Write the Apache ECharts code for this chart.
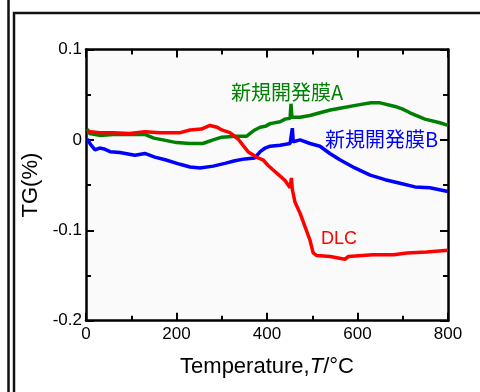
<!DOCTYPE html>
<html><head><meta charset="utf-8">
<script src="https://cdn.jsdelivr.net/npm/echarts@6/dist/echarts.min.js"></script>
<style>html,body{margin:0;padding:0;background:#fff}#c{width:480px;height:392px}</style>
</head><body><div id="c"></div>
<script>
var xTicks = [0, 200, 400, 600, 800];
var yTicks = [-0.2, -0.1, 0, 0.1];

var dlcT = [3,10,30,60,97,130,163,208,230,255,274,290,300,318,336,358,380,391,402,413,429,440,451,454,456,462,473,484,495,502,510,540,572,580,634,680,709,753,800];
var dlcV = [0.008,0.009,0.008,0.008,0.007,0.009,0.008,0.008,0.011,0.012,0.016,0.014,0.011,0.008,0.001,-0.013,-0.020,-0.022,-0.028,-0.033,-0.040,-0.045,-0.053,-0.042,-0.055,-0.069,-0.081,-0.096,-0.111,-0.125,-0.128,-0.129,-0.132,-0.129,-0.127,-0.127,-0.125,-0.124,-0.122];

var aT = [3,8,30,60,100,130,150,170,200,230,258,281,300,330,355,362,373,385,396,407,429,440,451,453,455,473,495,517,540,561,605,630,650,683,700,716,749,782,800];
var aV = [0.012,0.007,0.005,0.006,0.006,0.006,0.002,0.000,-0.003,-0.004,-0.004,0.000,0.003,0.004,0.004,0.007,0.011,0.014,0.015,0.018,0.020,0.023,0.024,0.040,0.025,0.025,0.027,0.030,0.033,0.035,0.039,0.041,0.041,0.037,0.034,0.030,0.023,0.019,0.016];

var bT = [3,10,20,30,40,53,75,108,130,152,175,208,230,252,281,307,329,351,373,385,396,407,429,451,456,458,473,495,517,539,561,594,628,661,694,727,760,800];
var bV = [0.001,-0.005,-0.011,-0.009,-0.010,-0.013,-0.014,-0.017,-0.015,-0.019,-0.022,-0.027,-0.030,-0.031,-0.029,-0.026,-0.023,-0.021,-0.020,-0.013,-0.009,-0.007,-0.006,-0.004,0.013,-0.002,0.000,-0.004,-0.007,-0.015,-0.022,-0.031,-0.039,-0.044,-0.048,-0.052,-0.053,-0.057];

var labels = ['新規開発膜A', '新規開発膜B', 'DLC'];

function zip(t, v) { return t.map(function (x, i) { return [x, v[i]]; }); }

var FONT = '"Liberation Sans", Arial, sans-serif';
var CJK = '"Noto Sans CJK JP", sans-serif';
var chart = echarts.init(document.getElementById('c'), null, {renderer: 'canvas'});

function xax(pos, showLabel, name) {
  return {
    type: 'value', position: pos, min: 0, max: 800, interval: 200,
    axisLine: {show: true, onZero: false, lineStyle: {color: '#000', width: 2.5}},
    axisTick: {show: true, inside: true, length: 8, lineStyle: {color: '#000', width: 2}},
    minorTick: {show: true, splitNumber: 2, length: 5, lineStyle: {color: '#000', width: 2}},
    splitLine: {show: false},
    axisLabel: {show: showLabel, color: '#000', fontSize: 17, fontFamily: FONT, margin: 5,
      formatter: function (v) { return xTicks.indexOf(v) >= 0 ? String(v) : ''; }},
    name: name || '', nameLocation: 'middle', nameGap: 35,
    nameTextStyle: {color: '#000', fontSize: 22, fontFamily: FONT,
      rich: {i: {fontStyle: 'italic', fontSize: 22, fontFamily: FONT, color: '#000'}}}
  };
}
function yax(pos, showLabel, name) {
  return {
    type: 'value', position: pos, min: -0.2, max: 0.1, interval: 0.1,
    axisLine: {show: true, onZero: false, lineStyle: {color: '#000', width: 2.5}},
    axisTick: {show: true, inside: true, length: 8, lineStyle: {color: '#000', width: 2}},
    minorTick: {show: true, splitNumber: 2, length: 5, lineStyle: {color: '#000', width: 2}},
    splitLine: {show: false},
    axisLabel: {show: showLabel, color: '#000', fontSize: 17, fontFamily: FONT, margin: 4,
      formatter: function (v) {
        var r = Math.round(v * 10) / 10;
        return yTicks.indexOf(r) >= 0 ? String(r) : '';
      }},
    name: name || '', nameLocation: 'middle', nameGap: 43, nameRotate: 90,
    nameTextStyle: {color: '#000', fontSize: 22, fontFamily: FONT}
  };
}

var option = {
  animation: false,
  backgroundColor: '#fff',
  grid: {left: 86, right: 32, top: 49.5, bottom: 71.3, show: true, backgroundColor: '#fafafa', borderWidth: 0},
  xAxis: [xax('bottom', true, 'Temperature,{i|T}/°C'), xax('top', false)],
  yAxis: [yax('left', true, 'TG(%)'), yax('right', false)],
  series: [
    {name: labels[2], type: 'line', data: zip(dlcT, dlcV), showSymbol: false, lineStyle: {color: '#ff0000', width: 3.5}, itemStyle: {color: '#ff0000'}, z: 3},
    {name: labels[0], type: 'line', data: zip(aT, aV), showSymbol: false, lineStyle: {color: '#008000', width: 3.5}, itemStyle: {color: '#008000'}, z: 2},
    {name: labels[1], type: 'line', data: zip(bT, bV), showSymbol: false, lineStyle: {color: '#0000ff', width: 3.5}, itemStyle: {color: '#0000ff'}, z: 2}
  ],
  graphic: [
    {type: 'line', shape: {x1: 8.5, y1: 0, x2: 8.5, y2: 392}, style: {stroke: '#111', lineWidth: 2.5}, z: 10},
    {type: 'rect', shape: {x: 14, y: 13, width: 600, height: 600}, style: {stroke: '#111', fill: null, lineWidth: 2.5}, z: 10},
    {type: 'text', left: 231, top: 82, style: {text: labels[0], fill: '#008000', font: '20px ' + CJK}, z: 20},
    {type: 'text', left: 325, top: 129, style: {text: labels[1], fill: '#0000ff', font: '20px ' + CJK}, z: 20},
    {type: 'text', left: 321, top: 230, style: {text: labels[2], fill: '#ff0000', font: '18px ' + FONT}, z: 20}
  ]
};
chart.setOption(option);
</script>
</body></html>
